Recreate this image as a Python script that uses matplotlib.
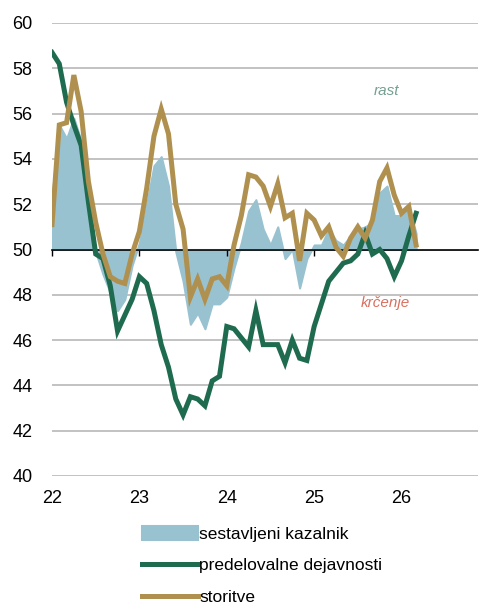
import matplotlib
matplotlib.use("Agg")
import matplotlib.pyplot as plt
import numpy as np

plt.rcParams['font.family'] = ['Liberation Sans', 'DejaVu Sans']

# Monthly data Jan 2022 - Mar 2026
composite = [52.3, 55.5, 54.9, 55.8, 54.8, 52.0, 49.9, 48.9, 48.1, 47.3, 47.8, 49.3,
             50.3, 52.0, 53.7, 54.1, 52.8, 49.9, 48.6, 46.7, 47.2, 46.5, 47.6, 47.6,
             47.9, 49.2, 50.3, 51.7, 52.2, 50.9, 50.2, 51.0, 49.6, 50.0, 48.3, 49.6,
             50.2, 50.2, 50.9, 50.4, 50.2, 50.6, 50.9, 51.0, 51.2, 52.5, 52.8, 51.5,
             51.5, 51.9, 50.7]
manufacturing = [58.7, 58.2, 56.5, 55.5, 54.6, 52.1, 49.8, 49.6, 48.4, 46.4, 47.1, 47.8,
                 48.8, 48.5, 47.3, 45.8, 44.8, 43.4, 42.7, 43.5, 43.4, 43.1, 44.2, 44.4,
                 46.6, 46.5, 46.1, 45.7, 47.3, 45.8, 45.8, 45.8, 45.0, 46.0, 45.2, 45.1,
                 46.6, 47.6, 48.6, 49.0, 49.4, 49.5, 49.8, 50.7, 49.8, 50.0, 49.6, 48.8,
                 49.5, 50.6, 51.6]
services = [51.1, 55.5, 55.6, 57.7, 56.1, 53.0, 51.2, 49.8, 48.8, 48.6, 48.5, 49.8,
            50.8, 52.7, 55.0, 56.2, 55.1, 52.0, 50.9, 47.9, 48.7, 47.8, 48.7, 48.8,
            48.4, 50.2, 51.5, 53.3, 53.2, 52.8, 51.9, 52.9, 51.4, 51.6, 49.5, 51.6,
            51.3, 50.6, 51.0, 50.1, 49.7, 50.5, 51.0, 50.5, 51.3, 53.0, 53.6, 52.4,
            51.6, 51.9, 50.2]
start_year = 22
year_ticks = [22, 23, 24, 25, 26]
y_ticks = [40, 42, 44, 46, 48, 50, 52, 54, 56, 58, 60]
labels = ['sestavljeni kazalnik', 'predelovalne dejavnosti', 'storitve']

x = start_year + np.arange(len(composite)) / 12.0

c_fill = '#99c2d1'
c_green = '#1f6b4f'
c_gold = '#b0904e'

fig = plt.figure(figsize=(4.79, 6.05), dpi=100)
ax = fig.add_axes([52/479, 1-476/605, (478-52)/479, (476-23)/605])

ax.fill_between(x, 50, composite, color=c_fill, lw=1.5, edgecolor=c_fill, zorder=2,
                label=labels[0])
ax.plot(x, manufacturing, color=c_green, lw=3.6, zorder=3, label=labels[1],
        solid_joinstyle='miter')
ax.plot(x, services, color=c_gold, lw=3.6, zorder=3, label=labels[2],
        solid_joinstyle='miter')

ax.set_xlim(22, 26.875)
ax.set_ylim(40, 60)
ax.set_yticks(y_ticks)
ax.set_xticks(year_ticks)
ax.set_xticklabels([str(t) for t in year_ticks])
ax.grid(axis='y', color='#bdbdbd', lw=1.3)
ax.set_axisbelow(True)
for s in ['top', 'right', 'left', 'bottom']:
    ax.spines[s].set_visible(False)
ax.tick_params(axis='both', length=0, labelsize=13, colors='black')
ax.tick_params(axis='y', pad=14)
ax.tick_params(axis='x', pad=10)

sec = ax.secondary_xaxis(0.5)
sec.set_alignment('bottom')
sec.set_xticks(year_ticks)
sec.tick_params(axis='x', direction='out', length=4, width=1, labelbottom=False,
                labeltop=False, color='black')
sec.spines['bottom'].set_linewidth(1.2)
sec.spines['bottom'].set_color('black')
sec.set_zorder(2.5)

fig.text(386/479, 1 - 90.7/605, 'rast', fontsize=11, style='italic',
         color='#74a08f', ha='center', va='center')
fig.text(385.7/479, 1 - 302.7/605, 'krčenje', fontsize=11, style='italic',
         color='#d9705f', ha='center', va='center')

handles, labs = ax.get_legend_handles_labels()
leg = fig.legend(handles, labs, loc='upper left', bbox_to_anchor=(135/479, 1-519/605),
                 frameon=False, fontsize=12.5, handlelength=3.2, handleheight=0.85,
                 handletextpad=0.1, labelspacing=0.9, borderaxespad=0)

fig.savefig('out.png', dpi=100)
